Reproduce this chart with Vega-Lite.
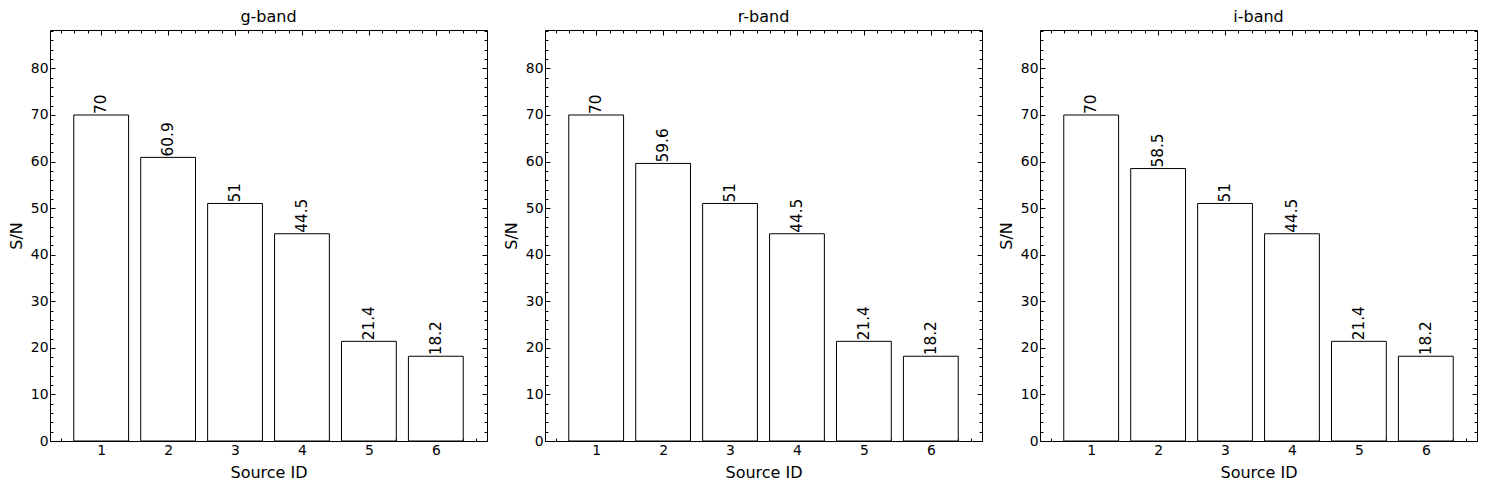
{
  "$schema": "https://vega.github.io/schema/vega-lite/v6.json",
  "background": "white",
  "padding": {"left": 7, "top": 8, "right": 5, "bottom": 5},
  "bounds": "flush",
  "spacing": 58,
  "datasets": {
    "sn": [
      {"band": "g-band", "id": 1, "sn": 70},
      {"band": "g-band", "id": 2, "sn": 60.9},
      {"band": "g-band", "id": 3, "sn": 51},
      {"band": "g-band", "id": 4, "sn": 44.5},
      {"band": "g-band", "id": 5, "sn": 21.4},
      {"band": "g-band", "id": 6, "sn": 18.2},
      {"band": "r-band", "id": 1, "sn": 70},
      {"band": "r-band", "id": 2, "sn": 59.6},
      {"band": "r-band", "id": 3, "sn": 51},
      {"band": "r-band", "id": 4, "sn": 44.5},
      {"band": "r-band", "id": 5, "sn": 21.4},
      {"band": "r-band", "id": 6, "sn": 18.2},
      {"band": "i-band", "id": 1, "sn": 70},
      {"band": "i-band", "id": 2, "sn": 58.5},
      {"band": "i-band", "id": 3, "sn": 51},
      {"band": "i-band", "id": 4, "sn": 44.5},
      {"band": "i-band", "id": 5, "sn": 21.4},
      {"band": "i-band", "id": 6, "sn": 18.2}
    ]
  },
  "data": {"name": "sn"},
  "hconcat": [
    {
      "title": {"text": "g-band"},
      "width": 437, "height": 411,
      "transform": [{"filter": {"field": "band", "equal": "g-band"}}],
      "layer": [
        {"mark": {"type": "bar", "fill": "white", "stroke": "black", "strokeWidth": 1, "size": 54.8},
         "encoding": {
           "x": {"field": "id", "type": "quantitative", "scale": {"domain": [0.31, 6.69], "nice": false, "zero": false}, "axis": {"orient": "bottom", "values": [1,2,3,4,5,6], "format": "d", "tickSize": -5, "labelPadding": 7, "title": "Source ID", "titlePadding": 8}},
           "y": {"field": "sn", "type": "quantitative", "scale": {"domain": [0, 88.25], "nice": false}, "axis": {"orient": "left", "values": [0,10,20,30,40,50,60,70,80], "tickSize": -5, "labelPadding": 7, "title": "S/N", "titlePadding": 6}}
         }},
        {"mark": {"type": "text", "angle": 270, "align": "left", "baseline": "middle", "dx": 1, "fontSize": 15.3, "font": "DejaVu Sans", "color": "black"},
         "encoding": {
           "x": {"field": "id", "type": "quantitative", "scale": {"domain": [0.31, 6.69], "nice": false, "zero": false}, "axis": null},
           "y": {"field": "sn", "type": "quantitative", "scale": {"domain": [0, 88.25], "nice": false}, "axis": null},
           "text": {"field": "sn", "type": "quantitative", "format": ".3~g"}
         }},
        {"mark": {"type": "point", "opacity": 0},
         "encoding": {
           "x": {"field": "id", "type": "quantitative", "scale": {"domain": [0.31, 6.69], "nice": false, "zero": false}, "axis": {"orient": "bottom", "values": [0.4,0.6,0.8,1.2,1.4,1.6,1.8,2.2,2.4,2.6,2.8,3.2,3.4,3.6,3.8,4.2,4.4,4.6,4.8,5.2,5.4,5.6,5.8,6.2,6.4,6.6], "tickSize": -3, "labels": false, "title": null}},
           "y": {"field": "sn", "type": "quantitative", "scale": {"domain": [0, 88.25], "nice": false}, "axis": {"orient": "left", "values": [2,4,6,8,12,14,16,18,22,24,26,28,32,34,36,38,42,44,46,48,52,54,56,58,62,64,66,68,72,74,76,78,82,84,86,88], "tickSize": -3, "labels": false, "title": null}}
         }},
        {"mark": {"type": "point", "opacity": 0},
         "encoding": {
           "x": {"field": "id", "type": "quantitative", "scale": {"domain": [0.31, 6.69], "nice": false, "zero": false}, "axis": {"orient": "top", "values": [1,2,3,4,5,6], "tickSize": -5, "labels": false, "title": null}},
           "y": {"field": "sn", "type": "quantitative", "scale": {"domain": [0, 88.25], "nice": false}, "axis": {"orient": "right", "values": [0,10,20,30,40,50,60,70,80], "tickSize": -5, "labels": false, "title": null}}
         }},
        {"mark": {"type": "point", "opacity": 0},
         "encoding": {
           "x": {"field": "id", "type": "quantitative", "scale": {"domain": [0.31, 6.69], "nice": false, "zero": false}, "axis": {"orient": "top", "values": [0.4,0.6,0.8,1.2,1.4,1.6,1.8,2.2,2.4,2.6,2.8,3.2,3.4,3.6,3.8,4.2,4.4,4.6,4.8,5.2,5.4,5.6,5.8,6.2,6.4,6.6], "tickSize": -3, "labels": false, "title": null}},
           "y": {"field": "sn", "type": "quantitative", "scale": {"domain": [0, 88.25], "nice": false}, "axis": {"orient": "right", "values": [2,4,6,8,12,14,16,18,22,24,26,28,32,34,36,38,42,44,46,48,52,54,56,58,62,64,66,68,72,74,76,78,82,84,86,88], "tickSize": -3, "labels": false, "title": null}}
         }}
      ],
      "resolve": {"axis": {"x": "independent", "y": "independent"}}
    },
    {
      "title": {"text": "r-band"},
      "width": 437, "height": 411,
      "transform": [{"filter": {"field": "band", "equal": "r-band"}}],
      "layer": [
        {"mark": {"type": "bar", "fill": "white", "stroke": "black", "strokeWidth": 1, "size": 54.8},
         "encoding": {
           "x": {"field": "id", "type": "quantitative", "scale": {"domain": [0.31, 6.69], "nice": false, "zero": false}, "axis": {"orient": "bottom", "values": [1,2,3,4,5,6], "format": "d", "tickSize": -5, "labelPadding": 7, "title": "Source ID", "titlePadding": 8}},
           "y": {"field": "sn", "type": "quantitative", "scale": {"domain": [0, 88.25], "nice": false}, "axis": {"orient": "left", "values": [0,10,20,30,40,50,60,70,80], "tickSize": -5, "labelPadding": 7, "title": "S/N", "titlePadding": 6}}
         }},
        {"mark": {"type": "text", "angle": 270, "align": "left", "baseline": "middle", "dx": 1, "fontSize": 15.3, "font": "DejaVu Sans", "color": "black"},
         "encoding": {
           "x": {"field": "id", "type": "quantitative", "scale": {"domain": [0.31, 6.69], "nice": false, "zero": false}, "axis": null},
           "y": {"field": "sn", "type": "quantitative", "scale": {"domain": [0, 88.25], "nice": false}, "axis": null},
           "text": {"field": "sn", "type": "quantitative", "format": ".3~g"}
         }},
        {"mark": {"type": "point", "opacity": 0},
         "encoding": {
           "x": {"field": "id", "type": "quantitative", "scale": {"domain": [0.31, 6.69], "nice": false, "zero": false}, "axis": {"orient": "bottom", "values": [0.4,0.6,0.8,1.2,1.4,1.6,1.8,2.2,2.4,2.6,2.8,3.2,3.4,3.6,3.8,4.2,4.4,4.6,4.8,5.2,5.4,5.6,5.8,6.2,6.4,6.6], "tickSize": -3, "labels": false, "title": null}},
           "y": {"field": "sn", "type": "quantitative", "scale": {"domain": [0, 88.25], "nice": false}, "axis": {"orient": "left", "values": [2,4,6,8,12,14,16,18,22,24,26,28,32,34,36,38,42,44,46,48,52,54,56,58,62,64,66,68,72,74,76,78,82,84,86,88], "tickSize": -3, "labels": false, "title": null}}
         }},
        {"mark": {"type": "point", "opacity": 0},
         "encoding": {
           "x": {"field": "id", "type": "quantitative", "scale": {"domain": [0.31, 6.69], "nice": false, "zero": false}, "axis": {"orient": "top", "values": [1,2,3,4,5,6], "tickSize": -5, "labels": false, "title": null}},
           "y": {"field": "sn", "type": "quantitative", "scale": {"domain": [0, 88.25], "nice": false}, "axis": {"orient": "right", "values": [0,10,20,30,40,50,60,70,80], "tickSize": -5, "labels": false, "title": null}}
         }},
        {"mark": {"type": "point", "opacity": 0},
         "encoding": {
           "x": {"field": "id", "type": "quantitative", "scale": {"domain": [0.31, 6.69], "nice": false, "zero": false}, "axis": {"orient": "top", "values": [0.4,0.6,0.8,1.2,1.4,1.6,1.8,2.2,2.4,2.6,2.8,3.2,3.4,3.6,3.8,4.2,4.4,4.6,4.8,5.2,5.4,5.6,5.8,6.2,6.4,6.6], "tickSize": -3, "labels": false, "title": null}},
           "y": {"field": "sn", "type": "quantitative", "scale": {"domain": [0, 88.25], "nice": false}, "axis": {"orient": "right", "values": [2,4,6,8,12,14,16,18,22,24,26,28,32,34,36,38,42,44,46,48,52,54,56,58,62,64,66,68,72,74,76,78,82,84,86,88], "tickSize": -3, "labels": false, "title": null}}
         }}
      ],
      "resolve": {"axis": {"x": "independent", "y": "independent"}}
    },
    {
      "title": {"text": "i-band"},
      "width": 437, "height": 411,
      "transform": [{"filter": {"field": "band", "equal": "i-band"}}],
      "layer": [
        {"mark": {"type": "bar", "fill": "white", "stroke": "black", "strokeWidth": 1, "size": 54.8},
         "encoding": {
           "x": {"field": "id", "type": "quantitative", "scale": {"domain": [0.31, 6.69], "nice": false, "zero": false}, "axis": {"orient": "bottom", "values": [1,2,3,4,5,6], "format": "d", "tickSize": -5, "labelPadding": 7, "title": "Source ID", "titlePadding": 8}},
           "y": {"field": "sn", "type": "quantitative", "scale": {"domain": [0, 88.25], "nice": false}, "axis": {"orient": "left", "values": [0,10,20,30,40,50,60,70,80], "tickSize": -5, "labelPadding": 7, "title": "S/N", "titlePadding": 6}}
         }},
        {"mark": {"type": "text", "angle": 270, "align": "left", "baseline": "middle", "dx": 1, "fontSize": 15.3, "font": "DejaVu Sans", "color": "black"},
         "encoding": {
           "x": {"field": "id", "type": "quantitative", "scale": {"domain": [0.31, 6.69], "nice": false, "zero": false}, "axis": null},
           "y": {"field": "sn", "type": "quantitative", "scale": {"domain": [0, 88.25], "nice": false}, "axis": null},
           "text": {"field": "sn", "type": "quantitative", "format": ".3~g"}
         }},
        {"mark": {"type": "point", "opacity": 0},
         "encoding": {
           "x": {"field": "id", "type": "quantitative", "scale": {"domain": [0.31, 6.69], "nice": false, "zero": false}, "axis": {"orient": "bottom", "values": [0.4,0.6,0.8,1.2,1.4,1.6,1.8,2.2,2.4,2.6,2.8,3.2,3.4,3.6,3.8,4.2,4.4,4.6,4.8,5.2,5.4,5.6,5.8,6.2,6.4,6.6], "tickSize": -3, "labels": false, "title": null}},
           "y": {"field": "sn", "type": "quantitative", "scale": {"domain": [0, 88.25], "nice": false}, "axis": {"orient": "left", "values": [2,4,6,8,12,14,16,18,22,24,26,28,32,34,36,38,42,44,46,48,52,54,56,58,62,64,66,68,72,74,76,78,82,84,86,88], "tickSize": -3, "labels": false, "title": null}}
         }},
        {"mark": {"type": "point", "opacity": 0},
         "encoding": {
           "x": {"field": "id", "type": "quantitative", "scale": {"domain": [0.31, 6.69], "nice": false, "zero": false}, "axis": {"orient": "top", "values": [1,2,3,4,5,6], "tickSize": -5, "labels": false, "title": null}},
           "y": {"field": "sn", "type": "quantitative", "scale": {"domain": [0, 88.25], "nice": false}, "axis": {"orient": "right", "values": [0,10,20,30,40,50,60,70,80], "tickSize": -5, "labels": false, "title": null}}
         }},
        {"mark": {"type": "point", "opacity": 0},
         "encoding": {
           "x": {"field": "id", "type": "quantitative", "scale": {"domain": [0.31, 6.69], "nice": false, "zero": false}, "axis": {"orient": "top", "values": [0.4,0.6,0.8,1.2,1.4,1.6,1.8,2.2,2.4,2.6,2.8,3.2,3.4,3.6,3.8,4.2,4.4,4.6,4.8,5.2,5.4,5.6,5.8,6.2,6.4,6.6], "tickSize": -3, "labels": false, "title": null}},
           "y": {"field": "sn", "type": "quantitative", "scale": {"domain": [0, 88.25], "nice": false}, "axis": {"orient": "right", "values": [2,4,6,8,12,14,16,18,22,24,26,28,32,34,36,38,42,44,46,48,52,54,56,58,62,64,66,68,72,74,76,78,82,84,86,88], "tickSize": -3, "labels": false, "title": null}}
         }}
      ],
      "resolve": {"axis": {"x": "independent", "y": "independent"}}
    }
  ],
  "config": {
    "view": {"stroke": "black", "strokeWidth": 1, "fill": "white"},
    "axis": {"domain": false, "grid": false, "ticks": true, "tickColor": "black", "tickWidth": 1, "labelColor": "black", "labelFont": "DejaVu Sans", "labelFontSize": 13.9, "titleFont": "DejaVu Sans", "titleFontSize": 16, "titleFontWeight": "normal", "titleColor": "black"},
    "title": {"font": "DejaVu Sans", "fontSize": 16, "fontWeight": "normal", "color": "black", "offset": 5, "anchor": "middle", "frame": "group"}
  }
}
